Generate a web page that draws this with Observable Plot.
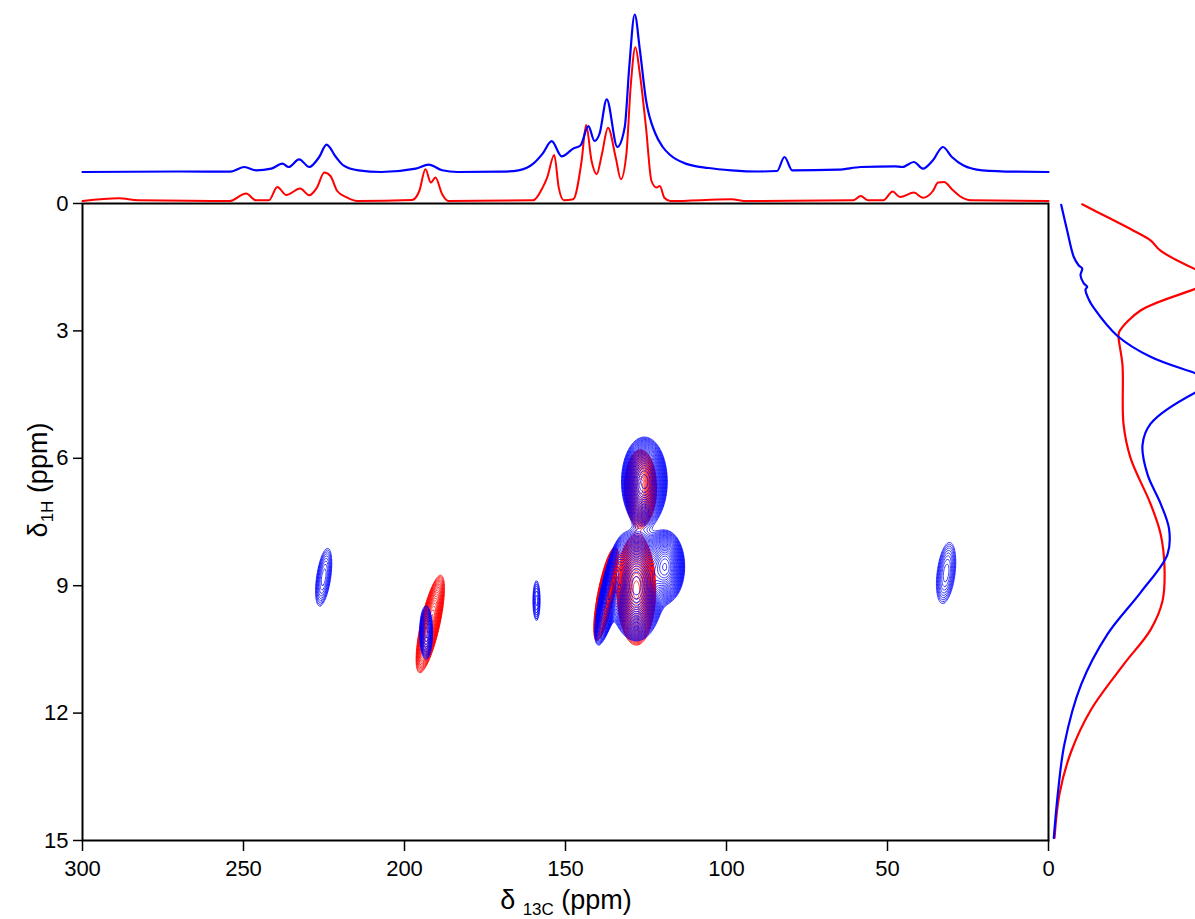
<!DOCTYPE html>
<html><head><meta charset="utf-8">
<script src="https://cdn.jsdelivr.net/npm/d3@7"></script>
<script src="https://cdn.jsdelivr.net/npm/@observablehq/plot@0.6"></script>
<style>
html,body{margin:0;padding:0;background:#fff;}
#wrap{position:relative;width:1195px;height:919px;overflow:hidden;font-family:"Liberation Sans",Arial,sans-serif;}
#wrap svg{position:absolute;left:0;top:0;}
</style></head><body><div id="wrap"></div>
<script>
// ---------- axes ----------
const c13Ticks = [300, 250, 200, 150, 100, 50, 0];
const h1Ticks = [0, 3, 6, 9, 12, 15];

// ---------- 13C projection (top), ppm / intensity (a.u.) ----------
const topBluePpm = [300,270,254,249.7,246.1,241.4,237.9,236,232.7,229.6,226.5,224.2,221.3,219,214.3,207.2,196.5,192.5,188.3,183.5,170,164.6,160,157.1,154.3,151.2,147.6,145.3,142.9,141,139.4,137.2,133.9,131.6,130.2,128.5,126.9,125,122.1,119.8,117.4,112.7,105.6,98.5,90,84.3,82,79.6,65.4,58.3,47.7,45.4,41.8,39,35.9,32.8,30,26.5,20.6,10,0];
const topBlueInt = [0,0.5,0.3,5,1.7,3.3,8.4,5,12.7,5,15,27.4,15,6.7,1.7,0,3.3,7.4,1.7,0,0.3,1.7,8.4,18.4,30.8,15.7,23.4,26.8,45.8,31.1,38.5,72.6,25.1,45,105,157.5,122,72,38.5,25,16.7,8.4,4,1.7,0.5,1,15,1.7,2.3,5,5.7,5,10,3.3,11.7,25,15,6.7,1.7,0.3,0];
const topRedPpm = [300,288.7,282.8,254.4,249.2,246.1,242.1,239.5,236.7,232.4,229.6,227.2,224.9,223,220.9,217.8,214.7,197.7,195.4,193.5,191.8,190.4,188.3,186.4,160,157.1,155.7,153.5,152.1,150.5,147.6,145,143.6,141.9,140.3,138.7,136.8,134.4,132.8,131.1,129.7,128.3,126.9,125,123.3,121.7,120.7,119.3,117.4,98.5,93.8,60.7,58.3,56,51.3,48.4,46.1,41.8,39,35.9,34.3,32.4,30,27.6,24.1,0];
const topRedInt = [0,2.7,0.7,0,7.4,0.7,0.7,14,6,12.4,5.7,13.4,28.4,25,10,3.3,0,1,10,31.8,18.4,23.4,6.7,0,0.7,13.4,23.4,46,13.4,0.7,1.7,40,76,40,26.8,46.8,73.2,43.5,21.7,46.8,117,153.8,127,73.6,20,13.4,15,3.3,0,1.7,0,0.7,5,0.7,0.7,9.4,4,8.4,3.3,10,18.4,19,11.7,5,0.7,0];
const topBlueOffset = 29;

// ---------- 1H projection (right), ppm / intensity (a.u.) ----------
const sideBluePpm = [0.03,0.64,1.26,1.46,1.53,1.69,1.88,1.96,2.03,2.26,2.46,3.12,3.61,4.0,4.22,4.45,5.19,5.69,6.38,7.06,7.67,8.26,9.15,10.14,11.33,12.72,13.9,14.94];
const sideBlueInt = [12.7,18.7,25.3,30.3,33.7,32,35.3,38.7,37,40.3,45.3,69,102,147,172,147,102,94,99,112,120.6,119,92.4,59,32.6,16,9.3,5.3];
const sideRedPpm = [0.02,0.32,0.64,0.87,1.11,1.55,1.78,2.01,2.52,3.01,3.11,3.81,5.19,5.99,7.07,7.77,8.56,9.36,10.04,10.83,11.92,12.91,13.9,14.94];
const sideRedInt = [33.7,58.7,85,102,112,147,172,147,92,71,70,74,75,82,102,112,116,114,102,76,42.5,22.6,11,6];

// ---------- 2D cross peaks (13C ppm, 1H ppm, half-extent 13C, half-extent 1H, tilt dC/dH, amplitude) ----------
const bluePeakC  = [225.1, 159.0, 31.8, 193.3, 125.5, 128.0, 119.0, 136.3];
const bluePeakH  = [8.8,   9.35,  8.7,  10.1,  6.55,  9.0,   8.55,  9.2];
const bluePeakEC = [2.2,   1.1,   2.8,  2.0,   7.1,   8.5,   6.0,   3.0];
const bluePeakEH = [0.68,  0.47,  0.72, 0.63,  1.05,  1.3,   0.85,  1.2];
const bluePeakK  = [1.8,   0,     1.5,  0,     0,     0,     0,     2.9];
const bluePeakA  = [0.1,   0.08,  0.1,  0.15,  0.8,   1.0,   0.6,   0.6];

const redPeakC  = [192.0, 126.7, 128.0, 137.5];
const redPeakH  = [9.9,   6.7,   9.1,   9.2];
const redPeakEC = [3.0,   5.0,   6.0,   2.5];
const redPeakEH = [1.15,  0.9,   1.3,   1.1];
const redPeakK  = [2.8,   0,     0,     2.5];
const redPeakA  = [0.35,  0.8,   1.0,   0.7];

const levelMin = 0.04;
const levels = d3.range(32).map(i => levelMin * Math.pow(1.11, i));

function peakModel(C, H, EC, EH, K, A) {
  const peaks = C.map((c, i) => {
    const r = Math.sqrt(2 * Math.log(A[i] / levelMin));
    return {c, h: H[i], sc: EC[i] / r, sh: EH[i] / r, k: K[i], a: A[i]};
  });
  return (x, y) => {
    let s = 0;
    for (const p of peaks) {
      const dh = (y - p.h) / p.sh;
      const dc = (x - (p.c + p.k * (y - p.h))) / p.sc;
      const q = dh * dh + dc * dc;
      if (q < 40) s += p.a * Math.exp(-0.5 * q);
    }
    return s;
  };
}
const blueModel = peakModel(bluePeakC, bluePeakH, bluePeakEC, bluePeakEH, bluePeakK, bluePeakA);
const redModel = peakModel(redPeakC, redPeakH, redPeakEC, redPeakEH, redPeakK, redPeakA);

// contour rings in data coordinates (d3.contours on a sampled grid)
function contourRings(model, name) {
  const nx = 700, ny = 460;
  const vals = new Float64Array(nx * ny);
  for (let j = 0; j < ny; ++j) {
    const h = (j + 0.5) * 15 / ny;
    for (let i = 0; i < nx; ++i) vals[j * nx + i] = model(300 - (i + 0.5) * 300 / nx, h);
  }
  const rows = [];
  let id = 0;
  for (const mp of d3.contours().size([nx, ny]).thresholds(levels)(vals)) {
    for (const poly of mp.coordinates) for (const ring of poly) {
      ++id;
      for (const [gx, gy] of ring) rows.push({c: 300 - gx * 300 / nx, h: gy * 15 / ny, id: name + id});
    }
  }
  return rows;
}

const W = 1195, H = 919;
const mL = 82, mR = 147, mT = 203, mB = 79;
const font = "'Liberation Sans', Arial, sans-serif";
const wrap = document.getElementById("wrap");

function contourMarks() {
  const red = contourRings(redModel, "r");
  const blue = contourRings(blueModel, "b");
  return [
    Plot.line(red, {x: "c", y: "h", z: "id", stroke: "#ff0000", strokeWidth: 0.75, curve: "linear"}),
    Plot.line(blue, {x: "c", y: "h", z: "id", stroke: "#0000ff", strokeWidth: 0.75, curve: "linear"})
  ];
}

// ---------- main 2D plot ----------
const mainPlot = Plot.plot({
  width: W, height: H,
  marginLeft: mL, marginRight: mR, marginTop: mT, marginBottom: mB,
  style: {fontFamily: font, fontSize: "22px", color: "black", background: "white"},
  x: {domain: [300, 0]},
  y: {domain: [0, 15], reverse: true},
  marks: [
    ...contourMarks(),
    Plot.frame({stroke: "black", strokeWidth: 2}),
    Plot.axisX({ticks: c13Ticks, tickSize: 11, tickPadding: 9, label: null, tickFormat: d => String(d), strokeWidth: 1.5}),
    Plot.axisY({ticks: h1Ticks, tickSize: 9, tickPadding: 5, label: null, tickFormat: d => String(d), strokeWidth: 1.5})
  ]
});
wrap.appendChild(mainPlot);

const svgSel = d3.select(mainPlot);
const xl = svgSel.append("text").attr("x", 566).attr("y", 909).attr("text-anchor", "middle")
  .attr("font-size", 27).attr("fill", "black").attr("font-family", font);
xl.append("tspan").text("δ ");
xl.append("tspan").attr("font-size", 17).attr("dy", 6).text("13C");
xl.append("tspan").attr("dy", -6).text(" (ppm)");

const yl = svgSel.append("text").attr("transform", "translate(47,480) rotate(-90)").attr("text-anchor", "middle")
  .attr("font-size", 27).attr("fill", "black").attr("font-family", font);
yl.append("tspan").text("δ");
yl.append("tspan").attr("font-size", 17).attr("dy", 6).text("1H");
yl.append("tspan").attr("dy", -6).text(" (ppm)");

// ---------- top 13C projection ----------
const topBlue = topBluePpm.map((p, i) => ({ppm: p, v: topBlueInt[i] + topBlueOffset}));
const topRed = topRedPpm.map((p, i) => ({ppm: p, v: topRedInt[i]}));
const topPlot = Plot.plot({
  width: W, height: mT,
  marginLeft: mL, marginRight: mR, marginTop: 0, marginBottom: 0,
  style: {background: "transparent", overflow: "visible"},
  x: {domain: [300, 0], axis: null},
  y: {domain: [0, 200], range: [200.5, 0.5], axis: null},
  marks: [
    Plot.line(topRed, {x: "ppm", y: "v", stroke: "#ff0000", strokeWidth: 2, curve: "monotone-x"}),
    Plot.line(topBlue, {x: "ppm", y: "v", stroke: "#0000ff", strokeWidth: 2.2, curve: "monotone-x"})
  ]
});
wrap.appendChild(topPlot);

// ---------- right 1H projection ----------
const sideBlue = sideBluePpm.map((p, i) => ({ppm: p, v: sideBlueInt[i]}));
const sideRed = sideRedPpm.map((p, i) => ({ppm: p, v: sideRedInt[i]}));
const sidePlot = Plot.plot({
  width: mR, height: H,
  marginLeft: 0, marginRight: 0, marginTop: mT, marginBottom: mB,
  style: {background: "transparent"},
  x: {domain: [0, 147], range: [0, 147], axis: null},
  y: {domain: [0, 15], reverse: true, axis: null},
  marks: [
    Plot.line(sideRed, {x: "v", y: "ppm", stroke: "#ff0000", strokeWidth: 2.2, curve: "catmull-rom", clip: true}),
    Plot.line(sideBlue, {x: "v", y: "ppm", stroke: "#0000ff", strokeWidth: 2.2, curve: "catmull-rom", clip: true})
  ]
});
sidePlot.style.left = (W - mR) + "px";
wrap.appendChild(sidePlot);
</script></body></html>
